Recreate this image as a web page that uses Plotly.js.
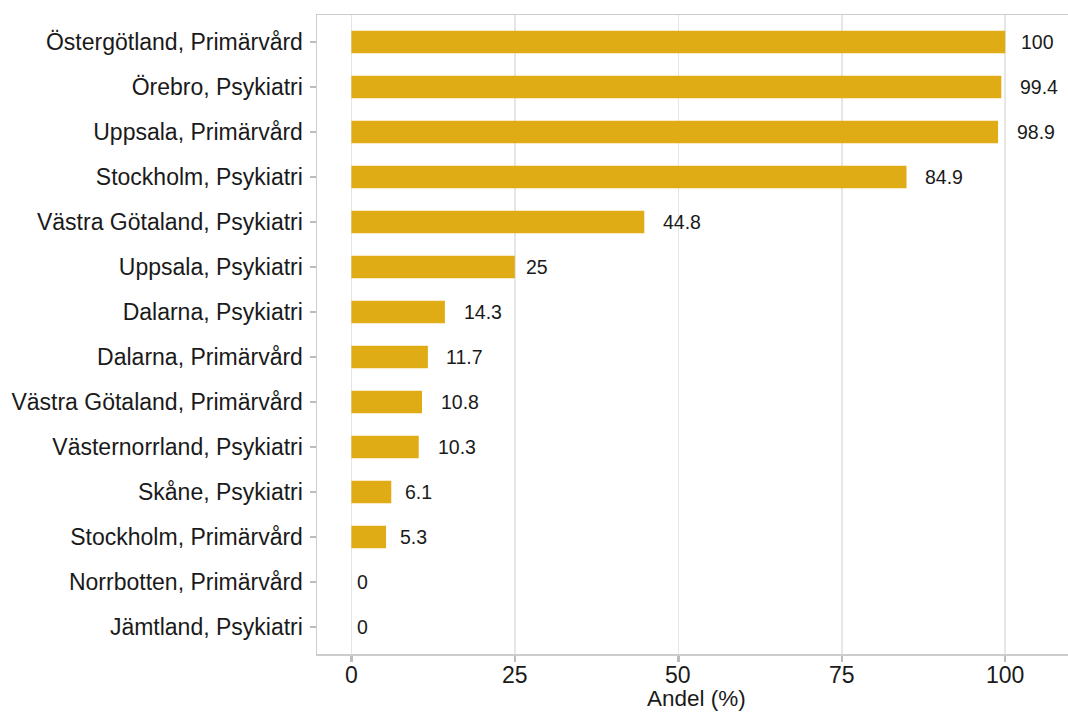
<!DOCTYPE html>
<html>
<head>
<meta charset="utf-8">
<script src="https://cdn.plot.ly/plotly-3.0.1.min.js"></script>
<style>html,body{margin:0;padding:0;background:#fff;}#chart{width:1068px;height:712px;}</style>
</head>
<body>
<div id="chart"></div>
<script>
const categories = [
  "Östergötland, Primärvård",
  "Örebro, Psykiatri",
  "Uppsala, Primärvård",
  "Stockholm, Psykiatri",
  "Västra Götaland, Psykiatri",
  "Uppsala, Psykiatri",
  "Dalarna, Psykiatri",
  "Dalarna, Primärvård",
  "Västra Götaland, Primärvård",
  "Västernorrland, Psykiatri",
  "Skåne, Psykiatri",
  "Stockholm, Primärvård",
  "Norrbotten, Primärvård",
  "Jämtland, Psykiatri"
];
const values = [100, 99.4, 98.9, 84.9, 44.8, 25, 14.3, 11.7, 10.8, 10.3, 6.1, 5.3, 0, 0];
const xTickVals = [0, 25, 50, 75, 100];
const xTickText = ["0", "25", "50", "75", "100"];
const xTitle = "Andel (%)";

const FONT = "Liberation Sans, Arial, Helvetica, sans-serif";
const TXT = "#1a1a1a";
const labelSize = 19.5;
const ctx = document.createElement("canvas").getContext("2d");
ctx.font = labelSize + "px 'Liberation Sans'";

// value labels (ggplot hjust = -0.5 style)
const annotations = values.map((v, i) => {
  const txt = String(v);
  const w = ctx.measureText(txt).width;
  return {
    x: v, y: categories[i], xref: "x", yref: "y",
    text: txt, showarrow: false,
    xanchor: "center", yanchor: "middle",
    xshift: w,
    font: {family: FONT, size: labelSize, color: TXT}
  };
});

// x tick labels, positioned by the x axis scale
xTickVals.forEach((v, i) => {
  annotations.push({
    x: v, y: 0, xref: "x", yref: "paper",
    text: xTickText[i], showarrow: false,
    xanchor: "center", yanchor: "middle", yshift: -21,
    font: {family: FONT, size: 23, color: TXT}
  });
});

// x axis title
annotations.push({
  x: 0.5, y: 0, xref: "paper", yref: "paper",
  text: xTitle, showarrow: false,
  xanchor: "center", yanchor: "middle", xshift: 4, yshift: -44,
  font: {family: FONT, size: 22.5, color: TXT}
});

const trace = {
  type: "bar",
  orientation: "h",
  x: values,
  y: categories,
  width: 0.5,
  marker: {color: "#E0AC16", line: {width: 0}},
  hoverinfo: "x+y"
};

const layout = {
  width: 1068, height: 712,
  margin: {l: 317, r: 0, t: 15, b: 58, pad: 0},
  paper_bgcolor: "#ffffff",
  plot_bgcolor: "#ffffff",
  showlegend: false,
  font: {family: FONT, color: TXT},
  xaxis: {
    range: [-5.26, 109.6],
    tickvals: xTickVals,
    showticklabels: false,
    showgrid: true, gridcolor: "#e6e6e6", gridwidth: 1.5,
    zeroline: false,
    showline: true, linecolor: "#cccccc", linewidth: 1.5, mirror: true,
    ticks: "outside", ticklen: 6, tickwidth: 2.5, tickcolor: "#bdbdbd"
  },
  yaxis: {
    type: "category",
    categoryorder: "array",
    categoryarray: categories,
    range: [13.6, -0.6],
    tickfont: {family: FONT, size: 23, color: TXT},
    ticklabelstandoff: 2,
    showgrid: false, zeroline: false,
    showline: true, linecolor: "#cccccc", linewidth: 1.5, mirror: false,
    ticks: "outside", ticklen: 6, tickwidth: 2.5, tickcolor: "#bdbdbd"
  },
  annotations: annotations
};

Plotly.newPlot("chart", [trace], layout, {displayModeBar: false, staticPlot: true});
</script>
</body>
</html>
